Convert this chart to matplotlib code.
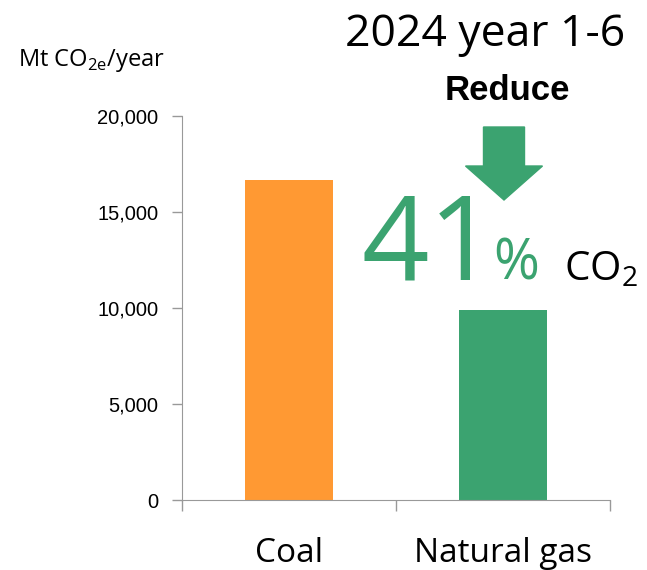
import matplotlib
matplotlib.use("Agg")
from matplotlib import pyplot as plt
from matplotlib.patches import FancyArrow

# data
categories = ['Coal', 'Natural gas']
emissions = [16650, 9870]
bar_colors = ['#FF9933', '#3BA370']
yticks = [0, 5000, 10000, 15000, 20000]

plt.rcParams['font.family'] = ['Liberation Sans', 'DejaVu Sans']

fig = plt.figure(figsize=(6.47, 5.70), dpi=100)
ax = fig.add_axes([182/647, 70/570, 428/647, 384/570])

ax.bar(range(len(categories)), emissions, width=0.41, color=bar_colors)

ax.set_ylim(0, 20000)
ax.set_xlim(-0.5, len(categories) - 0.5)
ax.set_yticks(yticks)
ax.set_yticklabels([f'{v:,}' for v in yticks], fontsize=14.5)
ax.tick_params(axis='y', length=7, width=1, color='#999999', pad=10)

# category ticks on boundaries, labels in the middle
ax.set_xticks([-0.5, 0.5, 1.5])
ax.set_xticklabels([])
ax.tick_params(axis='x', length=8, width=1, color='#999999')
for i, c in enumerate(categories):
    ax.text(i, -0.14, c, transform=ax.get_xaxis_transform(), ha='center', va='center',
            fontsize=24, family='Open Sans')

for s in ['top', 'right']:
    ax.spines[s].set_visible(False)
for s in ['left', 'bottom']:
    ax.spines[s].set_color('#999999')

fig.text(18/647, 1 - 60/570, r'Mt CO$_{\mathregular{2e}}$/year', fontsize=17,
         family='Open Sans', va='center', ha='left')

fig.text(485/647, 1 - 35/570, '2024 year 1-6', fontsize=32, family='Open Sans',
         ha='center', va='center')
fig.text(507/647, 1 - 90/570, 'Reduce', fontsize=25, fontweight='bold',
         ha='center', va='center')

# green down arrow
arr = FancyArrow(504/647, 1 - 127/570, 0, -(73/570), width=41/647, head_width=77/647,
                 head_length=34/570, length_includes_head=True, color='#3BA370',
                 transform=fig.transFigure)
fig.patches.append(arr)

fig.text(362/647, 1 - 280/570, '41', fontsize=85, family='Open Sans', color='#3BA370',
         ha='left', va='baseline')
fig.text(493/647, 1 - 280/570, '%', fontsize=40, family='Open Sans', color='#3BA370',
         ha='left', va='baseline')
fig.text(564/647, 1 - 280/570, r'CO$_{\mathregular{2}}$', fontsize=29, family='Open Sans',
         ha='left', va='baseline')

plt.savefig('out.png', dpi=100)
